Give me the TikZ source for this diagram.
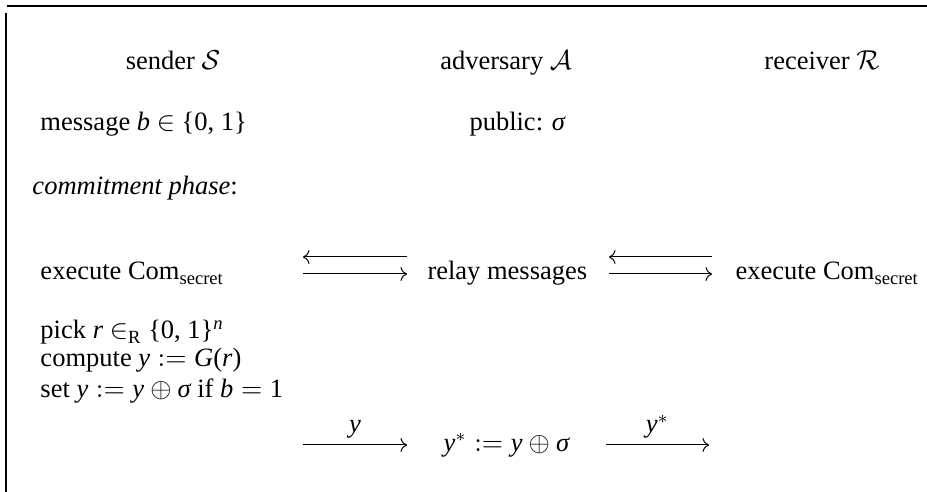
\documentclass[tikz,border=0pt]{standalone}
\usepackage{amsmath}
\usepackage{fontspec}
\setmainfont{Liberation Serif}
\usetikzlibrary{arrows.meta}
\newcommand\iv[1]{\textit{#1}}
\tikzset{
  txt/.style={inner sep=0pt,font=\fontsize{10.6}{12.7}\selectfont},
  lbl/.style={txt,anchor=base west},
  hdr/.style={txt,anchor=base},
  msgarrow/.style={line width=0.4pt,-{To[length=2.6pt,width=5.6pt]}},
  frameline/.style={line width=0.8pt}
}
\begin{document}
\begin{tikzpicture}[x=0.4pt,y=-0.4pt]
\useasboundingbox (0,0) rectangle (927,492);
\draw[frameline] (7,6) -- (927,6);
\draw[frameline] (6,13) -- (6,492);

\node[hdr] (snd) at (173,70) {sender $\mathcal{S}$};
\node[hdr] (adv) at (506,70) {adversary $\mathcal{A}$};
\node[hdr] (rcv) at (822,70) {receiver $\mathcal{R}$};

\node[lbl] (msg) at (40,131) {message \iv{b} $\in$ \{0, 1\}};
\node[lbl] (pub) at (469,131) {public: \iv{σ}};

\node[lbl] (phase) at (32,195) {\textit{commitment phase}:};

\node[lbl] (exS) at (40,280) {execute Com$_{\textrm{secret}}$};
\node[lbl] (relay) at (427,280) {relay messages};
\node[lbl] (exR) at (735,280) {execute Com$_{\textrm{secret}}$};

\coordinate (l1) at (303,257); \coordinate (r1) at (407,257);
\coordinate (l2) at (303,274); \coordinate (r2) at (407,274);
\coordinate (l3) at (609,257); \coordinate (r3) at (712,257);
\coordinate (l4) at (609,274); \coordinate (r4) at (712,274);
\draw[msgarrow] (r1) -- (l1);
\draw[msgarrow] (l2) -- (r2);
\draw[msgarrow] (r3) -- (l3);
\draw[msgarrow] (l4) -- (r4);

\node[lbl] (pick) at (40,339) {pick \iv{r} $\in_{\textrm{R}}$ \{0, 1\}$^{\iv{n}}$};
\node[lbl] (comp) at (40,367) {compute $\iv{y} \mathrel{:=} \iv{G}\textrm{(}\iv{r}\textrm{)}$};
\node[lbl] (set) at (40,398) {set $\iv{y} \mathrel{:=} \iv{y}\oplus\iv{σ}$ if $\iv{b}=\textrm{1}$};

\node[lbl] (ystar) at (443,451) {$\iv{y}^{*} \mathrel{:=} \iv{y}\oplus\iv{σ}$};
\coordinate (l5) at (303,445); \coordinate (r5) at (407,445);
\coordinate (l6) at (606,445); \coordinate (r6) at (709,445);
\draw[msgarrow] (l5) -- node[txt,midway,anchor=base,yshift=4.8pt] (ylab) {$\iv{y}$} (r5);
\draw[msgarrow] (l6) -- node[txt,midway,anchor=base,yshift=4.8pt] (yslab) {$\iv{y}^{*}$} (r6);
\end{tikzpicture}
\end{document}
